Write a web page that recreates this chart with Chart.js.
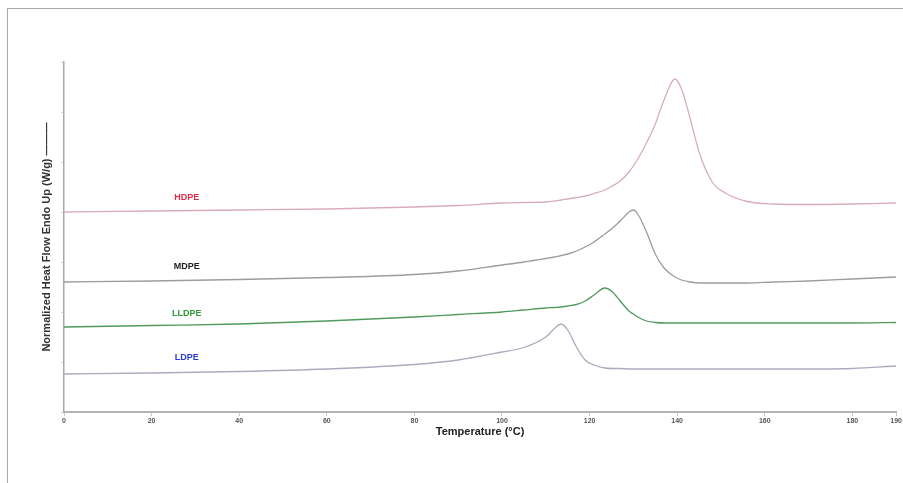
<!DOCTYPE html>
<html>
<head>
<meta charset="utf-8">
<title>DSC melting curves</title>
<script src="https://cdn.jsdelivr.net/npm/chart.js@4/dist/chart.umd.min.js"></script>
<style>
  body { margin: 0; background: #fff; }
  canvas { display: block; }
</style>
</head>
<body>
<canvas id="dscChart" width="903" height="483"></canvas>
<script>
// temperature grid (°C) shared by all four scans
var temps = [0, 20, 40, 60, 80, 90, 100, 105, 110, 112, 113.5, 115, 117, 119, 121, 123.5, 125, 127, 129, 130,
             131, 133, 135, 137, 139.5, 141, 143, 145, 148, 151, 156, 162, 170, 180, 190];

// normalized heat flow (W/g), curves offset vertically
var hdpe  = [20.0, 20.1, 20.2, 20.3, 20.5, 20.65, 20.9, 20.95, 21.0, 21.1, 21.2, 21.3, 21.45, 21.6, 21.85, 22.2, 22.55, 23.1, 24.0, 24.6,
             25.3, 26.9, 28.8, 31.2, 33.3, 32.3, 29.3, 26.0, 23.0, 21.9, 21.05, 20.8, 20.75, 20.8, 20.9];
var mdpe  = [13.0, 13.1, 13.25, 13.45, 13.75, 14.1, 14.7, 15.0, 15.35, 15.5, 15.65, 15.8, 16.1, 16.5, 17.0, 17.8, 18.3, 19.1, 20.0, 20.2,
             19.8, 18.0, 15.8, 14.4, 13.5, 13.2, 13.0, 12.9, 12.9, 12.9, 12.9, 13.0, 13.1, 13.3, 13.5];
var lldpe = [8.5, 8.65, 8.8, 9.1, 9.5, 9.75, 10.0, 10.2, 10.4, 10.45, 10.5, 10.6, 10.75, 11.1, 11.7, 12.4, 12.1, 11.1, 10.1, 9.8,
             9.5, 9.1, 8.95, 8.9, 8.9, 8.9, 8.9, 8.9, 8.9, 8.9, 8.9, 8.9, 8.9, 8.9, 8.95];
var ldpe  = [3.8, 3.9, 4.05, 4.3, 4.75, 5.2, 6.0, 6.45, 7.5, 8.35, 8.8, 8.2, 6.5, 5.2, 4.7, 4.4, 4.35, 4.35, 4.3, 4.3,
             4.3, 4.3, 4.3, 4.3, 4.3, 4.3, 4.3, 4.3, 4.3, 4.3, 4.3, 4.3, 4.3, 4.35, 4.6];

var xTicks = [0, 20, 40, 60, 80, 100, 120, 140, 160, 180, 190];

// curve names written on the plot: [text, temperature, heat flow, colour]
var curveLabels = [
    ['HDPE', 28, 21.4, '#e0304a'],
    ['MDPE', 28, 14.5, '#222222'],
    ['LLDPE', 28, 9.8, '#2e9a3a'],
    ['LDPE', 28, 5.4, '#2a3ad0']
];

function toPoints(xs, ys) {
    return xs.map(function(x, i) { return {x: x, y: ys[i]}; });
}

function makeSeries(label, values, color) {
    return {
        label: label,
        data: toPoints(temps, values),
        borderColor: color,
        borderWidth: 1.3,
        pointRadius: 0,
        fill: false,
        cubicInterpolationMode: 'monotone'
    };
}

// outer frame of the figure
var framePlugin = {
    id: 'frame',
    beforeDraw: function(chart) {
        var ctx = chart.ctx;
        ctx.save();
        ctx.fillStyle = '#ffffff';
        ctx.fillRect(0, 0, chart.width, chart.height);
        ctx.strokeStyle = '#a8a8a8';
        ctx.lineWidth = 1;
        ctx.strokeRect(7.5, 8.5, chart.width + 20, chart.height + 20);
        ctx.restore();
    }
};

var labelPlugin = {
    id: 'curveLabels',
    afterDatasetsDraw: function(chart) {
        var ctx = chart.ctx;
        var xs = chart.scales.x, ys = chart.scales.y;
        ctx.save();
        ctx.font = 'bold 9px "Liberation Sans", Arial, sans-serif';
        ctx.textAlign = 'center';
        ctx.textBaseline = 'middle';
        curveLabels.forEach(function(l) {
            ctx.fillStyle = l[3];
            ctx.fillText(l[0], xs.getPixelForValue(l[1]), ys.getPixelForValue(l[2]));
        });
        ctx.restore();
    }
};

(function() {
    var ctx = document.getElementById('dscChart').getContext('2d');
    new Chart(ctx, {
        type: 'line',
        data: {
            datasets: [
                makeSeries('HDPE', hdpe, '#d9adb5'),
                makeSeries('MDPE', mdpe, '#9c9ca0'),
                makeSeries('LLDPE', lldpe, '#4f9a5c'),
                makeSeries('LDPE', ldpe, '#ada9bf')
            ]
        },
        options: {
            responsive: false,
            animation: false,
            layout: { padding: { top: 62, right: 6, left: 0, bottom: 0 } },
            plugins: {
                legend: { display: false },
                tooltip: { enabled: false }
            },
            scales: {
                x: {
                    type: 'linear',
                    min: 0,
                    max: 190,
                    afterBuildTicks: function(scale) {
                        scale.ticks = xTicks.map(function(v) { return {value: v}; });
                    },
                    afterFit: function(scale) { scale.height = 71; },
                    border: { color: '#b4b4b4', width: 2 },
                    grid: { drawOnChartArea: false, tickLength: 4, color: '#c8c8c8' },
                    ticks: {
                        padding: 1,
                        maxRotation: 0,
                        color: '#555',
                        font: { family: '"Liberation Sans", Arial, sans-serif', size: 7, weight: 'bold' }
                    },
                    title: {
                        display: true,
                        text: 'Temperature (°C)',
                        color: '#222',
                        font: { family: '"Liberation Sans", Arial, sans-serif', size: 11, weight: 'bold' },
                        padding: { top: 0, bottom: 44 }
                    }
                },
                y: {
                    min: 0,
                    max: 35,
                    afterFit: function(scale) { scale.width = 64; },
                    border: { color: '#a8a8a8', width: 1.5 },
                    grid: { drawOnChartArea: false, tickLength: 3, color: '#d4d4d4' },
                    ticks: { display: false, stepSize: 5 },
                    title: {
                        display: true,
                        text: 'Normalized Heat Flow Endo Up (W/g) ———',
                        color: '#333',
                        font: { family: '"Liberation Sans", Arial, sans-serif', size: 11, weight: 'bold' },
                        padding: { top: 40, bottom: 0 }
                    }
                }
            }
        },
        plugins: [framePlugin, labelPlugin]
    });
})();
</script>
</body>
</html>
